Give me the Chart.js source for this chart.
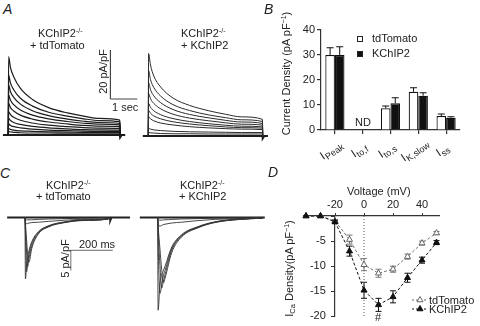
<!DOCTYPE html>
<html>
<head>
<meta charset="utf-8">
<script src="https://cdn.jsdelivr.net/npm/chart.js@4.4.0/dist/chart.umd.min.js"></script>
<style>
  body { margin: 0; background: #fff; }
  #fig { position: relative; width: 480px; height: 326px; overflow: hidden; font-family: 'Liberation Sans', Arial, sans-serif; color: #222; }
  #fig canvas { position: absolute; }
  .t { position: absolute; white-space: nowrap; font-size: 11px; line-height: 1; }
  .lab { font-size: 14px; font-style: italic; }
  sup { font-size: 7px; position: relative; top: -4px; vertical-align: baseline; }
  sub { font-size: 7.5px; position: relative; top: 2px; vertical-align: baseline; }
  .sq { position: absolute; width: 4px; height: 4px; border: 1px solid #222; }
</style>
</head>
<body>
<div id="fig">
  <canvas id="aL" width="140" height="103" style="left:0;top:42px"></canvas>
  <canvas id="aR" width="135" height="103" style="left:140px;top:43px"></canvas>
  <canvas id="b" width="215" height="160" style="left:260px;top:10px"></canvas>
  <canvas id="cL" width="124" height="80" style="left:6px;top:209px"></canvas>
  <canvas id="cR" width="126" height="108" style="left:139px;top:209px"></canvas>
  <canvas id="d" width="240" height="156" style="left:240px;top:170px"></canvas>

  <!-- data-cx / data-cy: centre of the text -->
  <div class="t lab" data-cx="7" data-cy="9">A</div>
  <div class="t" data-cx="60" data-cy="33">KChIP2<sup>-/-</sup></div>
  <div class="t" data-cx="57" data-cy="45">+ tdTomato</div>
  <div class="t" data-cx="203" data-cy="33">KChIP2<sup>-/-</sup></div>
  <div class="t" data-cx="204" data-cy="45">+ KChIP2</div>
  <div class="t" data-cx="103" data-cy="71" data-rot="1">20 pA/pF</div>
  <div class="t" data-cx="125" data-cy="107">1 sec</div>

  <div class="t lab" data-cx="268" data-cy="9">B</div>
  <div class="t" data-cx="287" data-cy="73" data-rot="1">Current Density (pA pF<sup>−1</sup>)</div>
  <div class="sq" style="left:357px;top:36px;background:#fff"></div>
  <div class="t" data-left="372" data-cy="38">tdTomato</div>
  <div class="sq" style="left:357px;top:51px;background:#111"></div>
  <div class="t" data-left="372" data-cy="53">KChIP2</div>
  <div class="t" data-cx="363" data-cy="122">ND</div>

  <div class="t lab" data-cx="5" data-cy="173">C</div>
  <div class="t" data-cx="68" data-cy="185">KChIP2<sup>-/-</sup></div>
  <div class="t" data-cx="63" data-cy="196">+ tdTomato</div>
  <div class="t" data-cx="202" data-cy="185">KChIP2<sup>-/-</sup></div>
  <div class="t" data-cx="202" data-cy="196">+ KChIP2</div>
  <div class="t" data-cx="97" data-cy="244">200 ms</div>
  <div class="t" data-cx="65" data-cy="258" data-rot="1">5 pA/pF</div>

  <div class="t lab" data-cx="273" data-cy="172">D</div>
  <div class="t" data-cx="379" data-cy="191">Voltage (mV)</div>
  <div class="t" data-cx="289" data-cy="268" data-rot="1">I<sub>Ca</sub> Density(pA pF<sup>−1</sup>)</div>
  <div class="t" data-cx="378" data-cy="317">#</div>
</div>
<script>
// ---- panel A: K+ current traces (pA/pF vs s)
const aTime = [0, 0.01, 0.08, 0.2, 0.45, 0.9, 1.5, 2.2, 2.8, 3.4, 4.15, 4.16];
const aLeftTraces = [
  [0, 32.0, 27.5, 23.8, 19.0, 14.5, 11.2, 9.0, 7.7, 6.8, 6.1, 0],
  [0, 24.5, 21.2, 18.5, 15.0, 11.8, 9.3, 7.7, 6.6, 5.9, 5.4, 0],
  [0, 20.4, 17.7, 15.4, 12.6, 9.9, 7.9, 6.5, 5.6, 5.1, 4.7, 0],
  [0, 16.3, 14.2, 12.4, 10.2, 8.1, 6.6, 5.5, 4.8, 4.4, 4.1, 0],
  [0, 12.9, 11.2, 9.8, 8.1, 6.5, 5.3, 4.5, 3.9, 3.6, 3.4, 0],
  [0, 9.5, 8.3, 7.2, 6.0, 4.9, 4.0, 3.4, 3.0, 2.8, 2.7, 0],
  [0, 6.8, 5.9, 5.1, 4.3, 3.5, 2.9, 2.5, 2.2, 2.1, 2.0, 0],
  [0, 4.5, 3.9, 3.4, 2.9, 2.4, 2.0, 1.8, 1.6, 1.5, 1.5, 0],
  [0, 2.6, 2.3, 2.0, 1.7, 1.5, 1.3, 1.2, 1.1, 1.1, 1.1, 0],
  [0, 1.4, 1.2, 1.1, 0.9, 0.8, 0.8, 0.7, 0.7, 0.7, 0.7, 0]
];
const aRightTraces = [
  [0, 33.7, 29.0, 24.5, 20.0, 15.5, 12.5, 10.3, 8.9, 7.8, 6.8, 0],
  [0, 26.7, 23.0, 19.8, 16.3, 12.8, 10.4, 8.6, 7.5, 6.6, 5.9, 0],
  [0, 21.8, 18.9, 16.4, 13.6, 10.8, 8.8, 7.4, 6.4, 5.7, 5.1, 0],
  [0, 17.4, 15.2, 13.3, 11.1, 8.9, 7.3, 6.2, 5.4, 4.8, 4.4, 0],
  [0, 13.3, 11.7, 10.3, 8.7, 7.1, 5.9, 5.0, 4.4, 4.0, 3.7, 0],
  [0, 10.5, 9.3, 8.2, 7.0, 5.8, 4.9, 4.2, 3.7, 3.4, 3.2, 0],
  [0, 7.9, 7.0, 6.2, 5.3, 4.5, 3.8, 3.3, 3.0, 2.8, 2.6, 0],
  [0, 3.1, 2.8, 2.5, 2.2, 1.9, 1.7, 1.6, 1.5, 1.4, 1.4, 0],
  [0, 1.4, 1.3, 1.2, 1.0, 0.9, 0.9, 0.8, 0.8, 0.8, 0.8, 0]
];
const aBaseTime = [-0.2, 4.15, 4.16, 4.22, 4.35];
const aBaseValue = [0, 0, -1.0, 0, 0];
// scale bar: 20 pA/pF by 1 s
const aBarTime = [3.8, 3.8, 4.8];
const aBarValue = [34.7, 14.7, 14.7];

// ---- panel B: current densities
const currents = ['Peak', 'to,f', 'to,s', 'K,slow', 'ss'];
const tdTomatoB = [30.0, null, 8.7, 15.3, 5.6];
const tdTomatoBErr = [2.9, null, 0.9, 1.6, 0.8];
const kchip2B = [30.0, null, 10.7, 13.7, 4.9];
const kchip2BErr = [3.3, null, 2.2, 1.2, 0.4];

// ---- panel C: Ca2+ current traces (pA/pF vs ms)
const cTimeL = [0, 2, 8, 13, 19, 32, 63, 111, 190, 270, 395, 405];
const cLeftTraces = [
  [0, -15.4, -11.6, -9.8, -8.3, -6.1, -3.6, -2.1, -1.1, -0.7, -0.4, 0],
  [0, -4.0, -13.6, -11.2, -9.2, -6.6, -3.8, -2.2, -1.2, -0.7, -0.4, 0],
  [0, -2.5, -9.0, -12.3, -10.3, -7.2, -4.0, -2.3, -1.2, -0.7, -0.4, 0],
  [0, -1.5, -6.0, -9.5, -11.2, -7.8, -4.2, -2.4, -1.3, -0.8, -0.4, 0],
  [0, -1.0, -1.6, -1.5, -1.4, -1.3, -1.2, -1.0, -0.7, -0.5, -0.3, 0],
  [0, -0.4, -0.6, -0.6, -0.6, -0.6, -0.5, -0.4, -0.3, -0.2, -0.1, 0]
];
const cTimeR = [0, 2, 11, 19, 27, 35, 67, 114, 192, 272, 391, 500];
const cRightTraces = [
  [0, -23.2, -16.5, -14.5, -13.3, -12.2, -7.4, -4.3, -2.3, -1.1, -0.4, -0.2],
  [0, -6.0, -19.0, -16.8, -14.6, -13.2, -7.8, -4.5, -2.4, -1.2, -0.4, -0.2],
  [0, -3.0, -12.0, -17.7, -16.0, -14.3, -8.2, -4.7, -2.5, -1.2, -0.5, -0.2],
  [0, -2.0, -8.0, -13.0, -16.4, -15.2, -8.8, -4.9, -2.6, -1.3, -0.5, -0.2],
  [0, -1.2, -2.2, -2.0, -1.8, -1.7, -1.4, -1.2, -0.8, -0.5, -0.3, -0.1],
  [0, -0.4, -0.7, -0.7, -0.6, -0.6, -0.5, -0.4, -0.3, -0.2, -0.1, 0]
];
const cBaseTimeL = [-85, 405, 406, 412, 500];
const cBaseValueL = [0, 0, -0.8, 0, 0];
const cBaseTimeR = [-85, 510];
const cBaseValueR = [0, 0];
// scale bar: 5 pA/pF by 200 ms
const cBarTime = [218, 218, 418];
const cBarValue = [-13.25, -8.25, -8.25];

// ---- panel D: I-V curves
const voltage = [-40, -30, -20, -10, 0, 10, 20, 30, 40, 50];
const tdTomatoICa = [0, 0, -1.0, -4.7, -9.7, -11.4, -10.6, -8.1, -5.4, -3.4];
const tdTomatoErr = [0, 0, 0.3, 0.9, 1.2, 0.8, 0.6, 0.5, 0.4, 0.3];
const kchip2ICa = [0, 0, -1.2, -7.0, -14.8, -17.7, -16.1, -12.3, -8.8, -5.3];
const kchip2Err = [0, 0, 0.3, 1.0, 1.6, 1.3, 1.2, 0.9, 0.6, 0.4];
const vTicks = [-20, 0, 20, 40];

const FONT = "'Liberation Sans', Arial, sans-serif";
Chart.defaults.font.family = FONT;
Chart.defaults.color = '#222';

// put html labels on whole pixels (half pixels made them look smeared)
document.querySelectorAll('#fig .t').forEach(el => {
  const w = el.offsetWidth, h = el.offsetHeight;
  const cy = +el.dataset.cy;
  if (el.dataset.rot) {
    el.style.left = Math.round(+el.dataset.cx - w / 2) + 'px';
    el.style.top = Math.round(cy - h / 2) + 'px';
    el.style.transform = 'rotate(-90deg)';
  } else if (el.dataset.left) {
    el.style.left = el.dataset.left + 'px';
    el.style.top = Math.round(cy - h / 2) + 'px';
  } else {
    el.style.left = Math.round(+el.dataset.cx - w / 2) + 'px';
    el.style.top = Math.round(cy - h / 2) + 'px';
  }
});

function xy(xs, ys) {
  return xs.map((x, i) => ({ x: x, y: ys[i] }));
}

function traceSet(times, values, color, width) {
  return {
    data: xy(times, values), borderColor: color, borderWidth: width,
    pointRadius: 0, cubicInterpolationMode: 'monotone', clip: false
  };
}

function plainSet(times, values, color, width) {
  return { data: xy(times, values), borderColor: color, borderWidth: width, pointRadius: 0, tension: 0, clip: false };
}

function traceChart(id, xMin, xMax, yMin, yMax, sets) {
  return new Chart(document.getElementById(id), {
    type: 'line',
    data: { datasets: sets },
    options: {
      responsive: false, animation: false,
      plugins: { legend: { display: false }, tooltip: { enabled: false } },
      scales: {
        x: { type: 'linear', min: xMin, max: xMax, display: false },
        y: { type: 'linear', min: yMin, max: yMax, display: false }
      }
    }
  });
}

// error bars, read from dataset.errors
const errorBars = {
  id: 'errorBars',
  draw(chart, both) {
    const ctx = chart.ctx, ys = chart.scales.y;
    chart.data.datasets.forEach((ds, i) => {
      if (!ds.errors) return;
      const meta = chart.getDatasetMeta(i);
      ctx.save();
      ctx.strokeStyle = ds.errorColor || '#111';
      ctx.lineWidth = 1;
      meta.data.forEach((el, j) => {
        const raw = ds.data[j];
        const v = raw !== null && typeof raw === 'object' ? raw.y : raw;
        const e = ds.errors[j];
        if (v == null || !e) return;
        const cap = ds.errorCap || 3;
        const top = ys.getPixelForValue(v + e);
        const bot = ys.getPixelForValue(both ? v - e : v);
        ctx.beginPath();
        ctx.moveTo(el.x, top); ctx.lineTo(el.x, bot);
        ctx.moveTo(el.x - cap, top); ctx.lineTo(el.x + cap, top);
        if (both) { ctx.moveTo(el.x - cap, bot); ctx.lineTo(el.x + cap, bot); }
        ctx.stroke();
      });
      ctx.restore();
    });
  },
  beforeDatasetsDraw(chart, args, opts) { if (opts.behind) this.draw(chart, true); },
  afterDatasetsDraw(chart, args, opts) { if (!opts.behind) this.draw(chart, false); }
};

// I with subscript under each category, tilted
const subLabels = {
  id: 'subLabels',
  afterDraw(chart) {
    const ctx = chart.ctx, xs = chart.scales.x;
    chart.data.labels.forEach((sub, i) => {
      const x = xs.getPixelForValue(i);
      ctx.save();
      ctx.translate(x - 4, chart.chartArea.bottom + 20);
      ctx.rotate(-0.6);
      ctx.fillStyle = '#222';
      ctx.textAlign = 'left';
      ctx.textBaseline = 'alphabetic';
      ctx.font = '11.5px ' + FONT;
      const wi = ctx.measureText('I').width;
      ctx.font = '9px ' + FONT;
      const ws = ctx.measureText(sub).width;
      const x0 = -(wi + ws) / 2;
      ctx.fillText(sub, x0 + wi + 0.5, 6.5);
      ctx.font = '11.5px ' + FONT;
      ctx.fillText('I', x0, 4);
      ctx.restore();
    });
  }
};

function triangle(ctx, x, y, r) {
  ctx.beginPath();
  ctx.moveTo(x, y - r);
  ctx.lineTo(x + r * 0.866, y + r * 0.5);
  ctx.lineTo(x - r * 0.866, y + r * 0.5);
  ctx.closePath();
  ctx.fill();
  ctx.stroke();
}

// legend for D: dashed line + triangle + name
const ivLegend = {
  id: 'ivLegend',
  afterDraw(chart) {
    const ctx = chart.ctx;
    const rows = [
      { name: 'tdTomato', color: '#666', fill: '#fff', y: 130 },
      { name: 'KChIP2', color: '#111', fill: '#111', y: 139 }
    ];
    rows.forEach(r => {
      ctx.save();
      ctx.strokeStyle = r.color;
      ctx.lineWidth = 1;
      ctx.setLineDash([2, 2]);
      ctx.beginPath(); ctx.moveTo(172, r.y); ctx.lineTo(187, r.y); ctx.stroke();
      ctx.setLineDash([]);
      ctx.fillStyle = r.fill;
      triangle(ctx, 180, r.y, 3.5);
      ctx.fillStyle = '#222';
      ctx.font = '11px ' + FONT;
      ctx.textBaseline = 'middle';
      ctx.fillText(r.name, 189, r.y + 0.5);
      ctx.restore();
    });
  }
};

// panel A
traceChart('aL', -0.31, 4.9, -4.1, 38, [
  ...aLeftTraces.map(v => traceSet(aTime, v, '#1c1c1c', 1.2)),
  plainSet(aBaseTime, aBaseValue, '#1c1c1c', 2),
  plainSet(aBarTime, aBarValue, '#444', 1)
]);
traceChart('aR', -0.302, 4.607, -4.1, 38, [
  ...aRightTraces.map(v => traceSet(aTime, v, '#2a2a2a', 1)),
  plainSet(aBaseTime, aBaseValue, '#1c1c1c', 2)
]);

// panel B
new Chart(document.getElementById('b'), {
  type: 'bar',
  data: {
    labels: currents,
    datasets: [
      { label: 'tdTomato', data: tdTomatoB, errors: tdTomatoBErr, errorCap: 3.5,
        backgroundColor: '#fff', borderColor: '#111', borderWidth: 1.2 },
      { label: 'KChIP2', data: kchip2B, errors: kchip2BErr, errorCap: 3.5,
        backgroundColor: '#111', borderColor: '#111', borderWidth: 1.2 }
    ]
  },
  options: {
    responsive: false, animation: false,
    layout: { padding: { top: 20, right: 15, left: 0, bottom: 0 } },
    datasets: { bar: { categoryPercentage: 0.69, barPercentage: 1 } },
    plugins: { legend: { display: false }, tooltip: { enabled: false }, errorBars: { behind: false } },
    scales: {
      x: {
        ticks: { display: false },
        grid: { offset: false, drawOnChartArea: false, tickLength: 4, color: '#333', lineWidth: 1.2 },
        border: { color: '#333', width: 1.2 },
        afterFit: s => { s.height = 40; }
      },
      y: {
        min: 0, max: 40,
        ticks: { stepSize: 10, font: { size: 11 }, padding: 2, color: '#222' },
        grid: { drawOnChartArea: false, tickLength: 4, color: '#333', lineWidth: 1.2 },
        border: { color: '#333', width: 1.2 },
        afterFit: s => { s.width = 61; }
      }
    }
  },
  plugins: [errorBars, subLabels]
});

// panel C
traceChart('cL', -90.5, 500, -17.9, 2.1, [
  ...cLeftTraces.map(v => traceSet(cTimeL, v, '#333', 0.9)),
  plainSet(cBaseTimeL, cBaseValueL, '#222', 2),
  plainSet(cBarTime, cBarValue, '#888', 1.2)
]);
traceChart('cR', -89, 511, -24.9, 2.1, [
  ...cRightTraces.map(v => traceSet(cTimeR, v, '#333', 0.9)),
  plainSet(cBaseTimeR, cBaseValueR, '#222', 2)
]);

// panel D
new Chart(document.getElementById('d'), {
  type: 'line',
  data: {
    datasets: [
      { label: 'KChIP2', data: xy(voltage, kchip2ICa), errors: kchip2Err, errorColor: '#111', errorCap: 3,
        borderColor: '#111', borderWidth: 1, borderDash: [3, 2], tension: 0,
        pointStyle: 'triangle', pointRadius: 3.5, pointBackgroundColor: '#111', pointBorderColor: '#111', clip: false },
      { label: 'tdTomato', data: xy(voltage, tdTomatoICa), errors: tdTomatoErr, errorColor: '#777', errorCap: 3,
        borderColor: '#777', borderWidth: 1, borderDash: [3, 2], tension: 0,
        pointStyle: 'triangle', pointRadius: 3.5, pointBackgroundColor: '#fff', pointBorderColor: '#666', clip: false },
      { label: 'zero', data: [{ x: 0, y: 0 }, { x: 0, y: -20 }], borderColor: '#555', borderWidth: 1,
        borderDash: [1, 2], pointRadius: 0, tension: 0 }
    ]
  },
  options: {
    responsive: false, animation: false,
    layout: { padding: { top: 26, left: 63.1, right: 40.6, bottom: 7.4 } },
    plugins: { legend: { display: false }, tooltip: { enabled: false }, errorBars: { behind: true } },
    scales: {
      x: {
        type: 'linear', position: 'top', min: -42, max: 52,
        afterBuildTicks: s => { s.ticks = vTicks.map(v => ({ value: v })); },
        ticks: { font: { size: 11 }, padding: 1, color: '#222' },
        grid: { drawOnChartArea: false, tickLength: 3, color: '#333' },
        border: { color: '#333', width: 1.2 },
        afterFit: s => { s.height = 20; }
      },
      y: {
        type: 'linear', position: { x: -20 }, min: -20, max: 0,
        ticks: { stepSize: 5, font: { size: 11 }, color: '#222', callback: v => (v === 0 ? '' : v + '   ') },
        grid: { drawOnChartArea: false, tickLength: 3, color: '#333' },
        border: { color: '#333', width: 1.2 }
      }
    }
  },
  plugins: [errorBars, ivLegend]
});
</script>
</body>
</html>
